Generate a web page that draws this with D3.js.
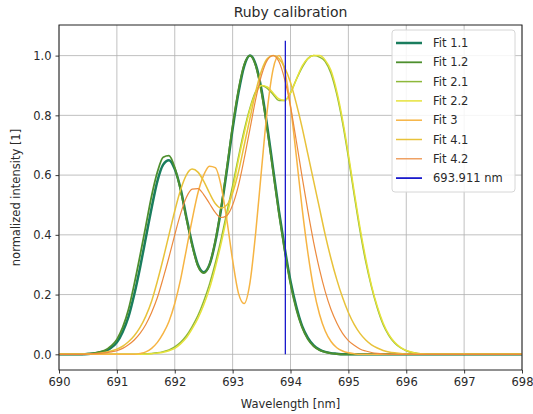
<!DOCTYPE html>
<html>
<head>
<meta charset="utf-8">
<script src="https://cdn.jsdelivr.net/npm/d3@7"></script>
<style>
  html, body { margin: 0; padding: 0; background: #fff; }
  svg { display: block; font-family: "DejaVu Sans", sans-serif; }
</style>
</head>
<body>
<div id="chart"></div>
<script>
// wavelength grid shared by all fits [nm]
const wavelength = [
  690.0, 690.4, 690.5, 690.6, 690.7, 690.8, 690.9, 691.0, 691.1, 691.2,
  691.3, 691.4, 691.5, 691.6, 691.7, 691.8, 691.9, 692.0, 692.1, 692.2,
  692.3, 692.4, 692.5, 692.6, 692.7, 692.8, 692.9, 693.0, 693.1, 693.2,
  693.3, 693.4, 693.5, 693.6, 693.7, 693.8, 693.9, 694.0, 694.1, 694.2,
  694.3, 694.4, 694.5, 694.6, 694.7, 694.8, 694.9, 695.0, 695.1, 695.2,
  695.3, 695.4, 695.5, 695.6, 695.7, 695.8, 695.9, 696.0, 696.1, 696.2,
  696.3, 696.4, 696.5, 696.6, 698.0
];

const fit11 = [
  0, 0, 0.001, 0.003, 0.006, 0.011, 0.022, 0.04, 0.075, 0.125,
  0.20, 0.29, 0.39, 0.49, 0.58, 0.635, 0.65, 0.62, 0.555, 0.46,
  0.37, 0.30, 0.275, 0.30, 0.375, 0.485, 0.615, 0.755, 0.875, 0.965,
  1.0, 0.97, 0.885, 0.76, 0.62, 0.48, 0.355, 0.245, 0.16, 0.095,
  0.055, 0.03, 0.016, 0.008, 0.004, 0.002, 0, 0, 0, 0,
  0, 0, 0, 0, 0, 0, 0, 0, 0, 0,
  0, 0, 0, 0, 0
];
const fit12 = [
  0, 0, 0.002, 0.004, 0.008, 0.014, 0.028, 0.05, 0.09, 0.15,
  0.235, 0.33, 0.43, 0.53, 0.61, 0.66, 0.665, 0.625, 0.55, 0.455,
  0.365, 0.295, 0.272, 0.30, 0.38, 0.49, 0.625, 0.765, 0.885, 0.97,
  1.0, 0.965, 0.875, 0.75, 0.61, 0.47, 0.345, 0.235, 0.15, 0.09,
  0.05, 0.027, 0.014, 0.007, 0.003, 0.001, 0, 0, 0, 0,
  0, 0, 0, 0, 0, 0, 0, 0, 0, 0,
  0, 0, 0, 0, 0
];
const fit21 = [
  0, 0, 0, 0, 0, 0, 0, 0, 0, 0,
  0, 0.001, 0.002, 0.003, 0.005, 0.009, 0.015, 0.025, 0.04, 0.062,
  0.093, 0.13, 0.178, 0.235, 0.305, 0.385, 0.475, 0.565, 0.66, 0.75,
  0.825, 0.88, 0.90, 0.89, 0.87, 0.85, 0.85, 0.875, 0.92, 0.96,
  0.99, 1.0, 0.995, 0.98, 0.94, 0.87, 0.775, 0.66, 0.535, 0.415,
  0.31, 0.225, 0.155, 0.10, 0.063, 0.038, 0.022, 0.012, 0.006, 0.003,
  0.001, 0, 0, 0, 0
];
const fit22 = [
  0, 0, 0, 0, 0, 0, 0, 0, 0, 0,
  0, 0, 0.001, 0.002, 0.004, 0.007, 0.012, 0.02, 0.035, 0.055,
  0.085, 0.12, 0.165, 0.22, 0.29, 0.37, 0.46, 0.55, 0.65, 0.74,
  0.82, 0.875, 0.90, 0.895, 0.875, 0.855, 0.85, 0.875, 0.92, 0.965,
  0.99, 1.0, 1.0, 0.985, 0.95, 0.88, 0.785, 0.67, 0.545, 0.425,
  0.32, 0.23, 0.16, 0.105, 0.066, 0.04, 0.023, 0.013, 0.007, 0.003,
  0.001, 0, 0, 0, 0
];
const fit3 = [
  0, 0, 0, 0, 0, 0, 0, 0, 0, 0,
  0, 0.003, 0.008, 0.02, 0.04, 0.07, 0.11, 0.17, 0.25, 0.35,
  0.45, 0.54, 0.60, 0.63, 0.625, 0.565, 0.45, 0.315, 0.205, 0.17,
  0.24, 0.41, 0.62, 0.82, 0.955, 1.0, 0.95, 0.83, 0.665, 0.49,
  0.34, 0.22, 0.135, 0.078, 0.043, 0.022, 0.011, 0.005, 0.002, 0,
  0, 0, 0, 0, 0, 0, 0, 0, 0, 0,
  0, 0, 0, 0, 0
];
const fit41 = [
  0, 0, 0.001, 0.002, 0.004, 0.007, 0.011, 0.017, 0.027, 0.042,
  0.062, 0.09, 0.128, 0.178, 0.245, 0.32, 0.40, 0.48, 0.55, 0.60,
  0.62, 0.61, 0.58, 0.54, 0.505, 0.49, 0.50, 0.54, 0.61, 0.70,
  0.79, 0.88, 0.95, 0.99, 1.0, 0.99, 0.96, 0.91, 0.84, 0.76,
  0.67, 0.58, 0.49, 0.40, 0.32, 0.25, 0.19, 0.14, 0.10, 0.07,
  0.048, 0.032, 0.021, 0.013, 0.008, 0.005, 0.003, 0.001, 0, 0,
  0, 0, 0, 0, 0
];
const fit42 = [
  0, 0, 0.001, 0.002, 0.003, 0.005, 0.008, 0.012, 0.02, 0.032,
  0.048, 0.07, 0.10, 0.14, 0.19, 0.255, 0.325, 0.40, 0.47, 0.525,
  0.553, 0.555, 0.535, 0.505, 0.475, 0.458, 0.465, 0.50, 0.565, 0.655,
  0.755, 0.855, 0.935, 0.985, 1.0, 0.98, 0.92, 0.83, 0.715, 0.595,
  0.48, 0.375, 0.285, 0.21, 0.15, 0.105, 0.07, 0.046, 0.03, 0.018,
  0.011, 0.006, 0.003, 0.001, 0, 0, 0, 0, 0, 0,
  0, 0, 0, 0, 0
];

// reference line
const refWavelength = 693.911;
const refSpan = [0, 1.05];

const seriesNames = ["Fit 1.1", "Fit 1.2", "Fit 2.1", "Fit 2.2", "Fit 3", "Fit 4.1", "Fit 4.2"];
const seriesValues = [fit11, fit12, fit21, fit22, fit3, fit41, fit42];
const seriesColors = ["#1a7d5e", "#4e8f2e", "#8db83a", "#e6e23a", "#f6b443", "#e8c23a", "#ec8a3e"];
const seriesWidths = [2.5, 1.8, 1.5, 1.5, 1.5, 1.5, 1.2];

const xTicks = [690, 691, 692, 693, 694, 695, 696, 697, 698];
const yTicks = [0.0, 0.2, 0.4, 0.6, 0.8, 1.0];

const width = 533, height = 414;
const margin = {top: 25, right: 11, bottom: 44, left: 59};

const svg = d3.select("#chart").append("svg")
    .attr("width", width)
    .attr("height", height);

const x = d3.scaleLinear().domain([690, 698]).range([margin.left, width - margin.right]);
const y = d3.scaleLinear().domain([-0.0525, 1.1025]).range([height - margin.bottom, margin.top]);

svg.append("defs").append("clipPath").attr("id", "plot-clip")
    .append("rect")
    .attr("x", margin.left).attr("y", margin.top)
    .attr("width", width - margin.left - margin.right)
    .attr("height", height - margin.top - margin.bottom);

// grid
const grid = svg.append("g").attr("class", "grid");
grid.selectAll(".gx").data(xTicks).enter().append("line")
    .attr("x1", d => x(d)).attr("x2", d => x(d))
    .attr("y1", margin.top).attr("y2", height - margin.bottom)
    .attr("stroke", "#b0b0b0").attr("stroke-width", 0.8);
grid.selectAll(".gy").data(yTicks).enter().append("line")
    .attr("x1", margin.left).attr("x2", width - margin.right)
    .attr("y1", d => y(d)).attr("y2", d => y(d))
    .attr("stroke", "#b0b0b0").attr("stroke-width", 0.8);

// fit curves
const line = d3.line()
    .x((d, i) => x(wavelength[i]))
    .y(d => y(d))
    .curve(d3.curveMonotoneX);

const curves = svg.append("g").attr("clip-path", "url(#plot-clip)");
seriesValues.forEach((vals, k) => {
    curves.append("path")
        .datum(vals)
        .attr("fill", "none")
        .attr("stroke", seriesColors[k])
        .attr("stroke-width", seriesWidths[k])
        .attr("stroke-linejoin", "round")
        .attr("d", line);
});

// reference wavelength
curves.append("line")
    .attr("x1", x(refWavelength)).attr("x2", x(refWavelength))
    .attr("y1", y(refSpan[0])).attr("y2", y(refSpan[1]))
    .attr("stroke", "#1a1acc")
    .attr("stroke-width", 1.3);

// axes
const xAxis = svg.append("g")
    .attr("transform", `translate(0,${height - margin.bottom})`)
    .call(d3.axisBottom(x).tickValues(xTicks).tickFormat(d3.format("d")).tickSize(3.5).tickPadding(4));
const yAxis = svg.append("g")
    .attr("transform", `translate(${margin.left},0)`)
    .call(d3.axisLeft(y).tickValues(yTicks).tickFormat(d3.format(".1f")).tickSize(3.5).tickPadding(4));

[xAxis, yAxis].forEach(ax => {
    ax.select(".domain").remove();
    ax.selectAll("text").attr("font-size", "11.5px").attr("fill", "#2a2a2a")
        .attr("font-family", "DejaVu Sans, sans-serif");
    ax.selectAll("line").attr("stroke", "#222").attr("stroke-width", 0.9);
});

// spines
svg.append("rect")
    .attr("x", margin.left).attr("y", margin.top)
    .attr("width", width - margin.left - margin.right)
    .attr("height", height - margin.top - margin.bottom)
    .attr("fill", "none")
    .attr("stroke", "#222")
    .attr("stroke-width", 1);

// labels
svg.append("text")
    .attr("x", (margin.left + width - margin.right) / 2)
    .attr("y", 17)
    .attr("text-anchor", "middle")
    .attr("font-size", "14px")
    .attr("fill", "#2a2a2a")
    .text("Ruby calibration");

svg.append("text")
    .attr("x", (margin.left + width - margin.right) / 2)
    .attr("y", 408)
    .attr("text-anchor", "middle")
    .attr("font-size", "11.5px")
    .attr("fill", "#2a2a2a")
    .text("Wavelength [nm]");

svg.append("text")
    .attr("transform", `translate(20,${(margin.top + height - margin.bottom) / 2}) rotate(-90)`)
    .attr("text-anchor", "middle")
    .attr("font-size", "11.5px")
    .attr("fill", "#2a2a2a")
    .text("normalized intensity [1]");

// legend
const legendNames = seriesNames.concat(["693.911 nm"]);
const legendColors = seriesColors.concat(["#1a1acc"]);
const legendWidths = seriesWidths.concat([1.8]);

const legend = svg.append("g").attr("transform", "translate(392,30)");
legend.append("rect")
    .attr("width", 123).attr("height", 162)
    .attr("rx", 3)
    .attr("fill", "#fff").attr("fill-opacity", 0.85)
    .attr("stroke", "#d6d6d6").attr("stroke-width", 1);

const entries = legend.selectAll(".entry").data(legendNames).enter().append("g")
    .attr("transform", (d, i) => `translate(0,${13 + i * 19.3})`);
entries.append("line")
    .attr("x1", 4).attr("x2", 30)
    .attr("stroke", (d, i) => legendColors[i])
    .attr("stroke-width", (d, i) => legendWidths[i]);
entries.append("text")
    .attr("x", 41).attr("dy", "0.35em")
    .attr("font-size", "11.5px")
    .attr("fill", "#2a2a2a")
    .text(d => d);
</script>
</body>
</html>
